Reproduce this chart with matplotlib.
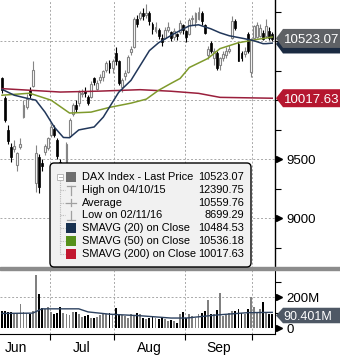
import matplotlib
matplotlib.use('Agg')
import matplotlib.pyplot as plt
import numpy as np
import pandas as pd
from matplotlib import font_manager
from matplotlib.patches import Rectangle, Polygon, FancyBboxPatch
from matplotlib.lines import Line2D
from matplotlib.transforms import blended_transform_factory, ScaledTranslation

avail = {f.name for f in font_manager.fontManager.ttflist}
FONT = 'Liberation Sans' if 'Liberation Sans' in avail else 'DejaVu Sans'
plt.rcParams['font.family'] = [FONT, 'DejaVu Sans']

# ---------------- data ----------------
dates = pd.bdate_range('2016-06-09', '2016-10-11')

opens = [10185, 10020, 9750, 9605, 9590, 9455, 9608, 9860, 9945, 10090, 10120, 9300, 9520, 9470, 9560, 9600,
         9710, 9760, 9665, 9480, 9390, 9400, 9700, 9880, 9960, 9980, 10050, 10080, 10030, 10030, 10190, 10100,
         10170, 10200, 10260, 10320, 10270,
         10400, 10330, 10110, 10210, 10240, 10410, 10450, 10690, 10700, 10740, 10725, 10740, 10650, 10590, 10600,
         10530, 10530, 10600, 10580, 10540, 10560, 10580, 10640,
         10590, 10560, 10690, 10660, 10690, 10740, 10640, 10380, 10488, 10362, 10404, 10300, 10355, 10380, 10421,
         10525, 10673, 10480, 10400, 10390, 10564, 10240,
         10530, 10540, 10547, 10572, 10545, 10589, 10560]
highs = [10200, 10040, 9790, 9640, 9665, 9560, 9680, 10000, 10050, 10110, 10335, 9620, 9545, 9500, 9630, 9690,
         9800, 9790, 9680, 9500, 9460, 9650, 9850, 9980, 10000, 10090, 10100, 10110, 10045, 10160, 10200, 10170,
         10220, 10260, 10330, 10340, 10350,
         10450, 10340, 10190, 10260, 10380, 10460, 10710, 10720, 10760, 10780, 10815, 10760, 10660, 10660, 10610,
         10560, 10620, 10660, 10590, 10610, 10570, 10680, 10650,
         10600, 10700, 10720, 10750, 10790, 10760, 10650, 10460, 10500, 10440, 10420, 10370, 10420, 10450, 10470,
         10715, 10690, 10490, 10420, 10450, 10580, 10530,
         10640, 10660, 10650, 10600, 10690, 10620, 10580]
lows = [10060, 9820, 9630, 9475, 9565, 9400, 9590, 9850, 9930, 10020, 10110, 9226, 9214, 9400, 9540, 9580,
        9690, 9690, 9500, 9330, 9340, 9390, 9690, 9870, 9900, 9950, 10030, 10030, 9960, 10020, 10130, 10090,
        10150, 10160, 10240, 10230, 10230,
        10300, 10130, 10070, 10170, 10230, 10380, 10440, 10620, 10680, 10680, 10700, 10640, 10560, 10570, 10520,
        10460, 10520, 10580, 10500, 10510, 10510, 10560, 10560,
        10490, 10550, 10640, 10620, 10680, 10640, 10560, 10350, 10400, 10300, 10260, 10260, 10330, 10360, 10400,
        10520, 10600, 10330, 10330, 10370, 10400, 10194,
        10520, 10530, 10540, 10510, 10530, 10510, 10500]
closes = [10088, 9834, 9657, 9519, 9615, 9550, 9631, 9962, 10015, 10045, 10257, 9557, 9268, 9440, 9612, 9680,
          9776, 9709, 9532, 9373, 9418, 9629, 9833, 9964, 9930, 10068, 10066, 10063, 9981, 10142, 10156, 10147,
          10198, 10247, 10319, 10275, 10337,
          10330, 10144, 10170, 10228, 10367, 10432, 10693, 10650, 10742, 10713, 10740, 10676, 10603, 10620, 10544,
          10495, 10593, 10623, 10529, 10588, 10544, 10657, 10592,
          10534, 10684, 10700, 10740, 10752, 10675, 10573, 10435, 10421, 10420, 10278, 10355, 10396, 10421, 10436,
          10673, 10614, 10337, 10360, 10420, 10421, 10522,
          10630, 10640, 10614, 10522, 10630, 10530, 10523]
volumes_m = [111, 111, 107, 104, 89, 98, 156, 104, 96, 89, 111, 344, 222, 129, 122, 138,
             104, 89, 100, 138, 100, 93, 84, 104, 107, 93, 73, 76, 82, 67, 67, 71, 82, 89, 93, 100, 82,
             133, 89, 82, 78, 67, 89, 78, 98, 89, 67, 56, 67, 78, 67, 60, 67, 56, 44, 49, 44, 33, 89, 107,
             67, 89, 78, 67, 89, 100, 111, 182, 89, 93, 116, 227, 78, 82, 100, 111, 111, 122, 100, 89, 122, 204,
             140, 100, 122, 167, 100, 89, 90.401]

# moving averages (bar index, value)
sma20_idx = [0, 4, 8, 11, 14, 17, 20, 22, 25, 30, 33, 35, 38, 42, 45, 48, 51, 56, 61, 64, 68, 71, 74, 79, 82, 85, 86, 88]
sma20_val = [10093, 10043, 10018, 10001, 9900, 9774, 9685, 9683, 9749, 9774, 9858, 9942, 10068, 10169, 10295,
             10421, 10488, 10564, 10631, 10640, 10606, 10572, 10547, 10522, 10505, 10480, 10480, 10484.53]
sma50_idx = [0, 9, 16, 22, 29, 35, 42, 47, 51, 55, 58, 61, 67, 71, 77, 84, 88]
sma50_val = [10043, 10060, 10001, 9892, 9900, 9940, 9976, 10010, 10085, 10143, 10185, 10278, 10354, 10438,
             10488, 10520, 10536.18]
sma200_idx = [0, 19, 32, 45, 55, 64, 71, 88]
sma200_val = [10099, 10070, 10078, 10090, 10077, 10059, 10025, 10017.63]
vma_idx = [0, 10, 13, 25, 28, 35, 45, 55, 60, 70, 80, 88]
vma_val = [95, 97, 125, 125, 105, 90, 80, 65, 65, 85, 100, 102]

last_price = 10523.07
legend_labels = ['DAX Index - Last Price', 'High on 04/10/15', 'Average', 'Low on 02/11/16',
                 'SMAVG (20) on Close', 'SMAVG (50) on Close', 'SMAVG (200) on Close']
legend_values = ['10523.07', '12390.75', '10559.76', '8699.29', '10484.53', '10536.18', '10017.63']
month_names = ['Jun', 'Jul', 'Aug', 'Sep']

# ---------------- figure ----------------
W, H = 340, 363
fig = plt.figure(figsize=(W / 100, H / 100), dpi=100)
fx = lambda x: x / W
fy = lambda y: 1 - y / H

ax = fig.add_axes([0, fy(268), fx(275), 268 / H])
axv = fig.add_axes([0, fy(334), fx(275), (334 - 270) / H])

opens = np.array(opens, float); highs = np.array(highs, float)
lows = np.array(lows, float); closes = np.array(closes, float)
vol = np.array(volumes_m, float)
n = len(closes)
x = np.arange(n)
up = closes >= opens
XL = (-0.65, 88.9)

GRAY = '#858585'
grid_kw = dict(color='#a8a8a8', lw=0.7, ls=(0, (2, 2)), zorder=1)

# month boundaries
mon = dates.month
starts = [i for i in range(1, n) if mon[i] != mon[i - 1]]
bounds = [s - 0.5 for s in starts]
centers = []
for k, name in enumerate(month_names):
    m = 6 + k
    full = len(pd.bdate_range(pd.Timestamp(2016, m, 1), pd.Timestamp(2016, m, 1) + pd.offsets.MonthEnd(0)))
    end = bounds[k]
    centers.append(end - full / 2)

# ---- main price panel ----
for b in bounds:
    ax.axvline(b, **grid_kw)
for g in [9000, 9500, 10000, 10500]:
    ax.axhline(g, **grid_kw)

ax.vlines(x[up], lows[up], highs[up], color=GRAY, lw=0.8, zorder=3)
ax.vlines(x[~up], lows[~up], highs[~up], color='black', lw=0.8, zorder=3)
bot = np.minimum(opens, closes)
hgt = np.maximum(np.abs(closes - opens), 5)
ax.bar(x[up], hgt[up], bottom=bot[up], width=0.62, facecolor='white', edgecolor=GRAY, lw=0.8, zorder=4)
ax.bar(x[~up], hgt[~up], bottom=bot[~up], width=0.62, facecolor='black', edgecolor='black', lw=0.5, zorder=4)

ax.plot(sma200_idx, sma200_val, color='#9a1f3c', lw=1.1, zorder=5)
ax.plot(sma50_idx, sma50_val, color='#7f9a2c', lw=1.1, zorder=5)
ax.plot(sma20_idx, sma20_val, color='#21375a', lw=1.1, zorder=6)

ax.set_xlim(*XL)
ax.set_ylim(8579, 10850)
for s in ['left', 'top', 'bottom']:
    ax.spines[s].set_visible(False)
ax.spines['right'].set_color('black')
ax.spines['right'].set_linewidth(1.0)
ax.set_xticks([])
ax.yaxis.tick_right()
yt = np.arange(8750, 10850, 250)
ax.set_yticks(yt)
ax.set_yticklabels([str(int(v)) if v in (9000, 9500) else '' for v in yt])
ax.tick_params(axis='y', direction='out', length=4, width=0.8, pad=4, labelsize=9.5)

tr = blended_transform_factory(ax.transAxes, ax.transData) + ScaledTranslation(4 / 100, 0, fig.dpi_scale_trans)
for v in [9000, 9500]:
    ax.plot([1.0], [v], marker='>', ms=4.5, color='black', transform=tr, clip_on=False, zorder=7)

# ---- volume panel ----
for b in bounds:
    axv.axvline(b, **grid_kw)
axv.axhline(200, **grid_kw)
axv.bar(x[up], vol[up], width=0.6, color='#808080', zorder=3)
axv.bar(x[~up], vol[~up], width=0.6, color='black', zorder=3)
axv.plot(vma_idx, vma_val, color='#2d4260', lw=1.0, zorder=4)
axv.set_xlim(*XL)
axv.set_ylim(-39, 378)
for s in ['left', 'top']:
    axv.spines[s].set_visible(False)
axv.yaxis.tick_right()
axv.set_yticks([0, 100, 200, 300])
axv.set_yticklabels(['0', '', '200M', ''])
axv.tick_params(axis='y', direction='out', length=4, width=0.8, pad=4, labelsize=9.5)
trv = blended_transform_factory(axv.transAxes, axv.transData) + ScaledTranslation(4 / 100, 0, fig.dpi_scale_trans)
for v in [0, 200]:
    axv.plot([1.0], [v], marker='>', ms=4.5, color='black', transform=trv, clip_on=False, zorder=7)
axv.set_xticks(bounds)
axv.set_xticklabels([])
axv.set_xticks(centers, minor=True)
axv.set_xticklabels(month_names, minor=True)
axv.tick_params(axis='x', which='major', direction='out', length=4, width=0.8)
axv.tick_params(axis='x', which='minor', length=0, pad=5, labelsize=10)

# separator band
fig.add_artist(Rectangle((0, fy(270)), 1, 3 / H, transform=fig.transFigure, color='#8c8c8c', zorder=8))


# ---- value boxes on right ----
def value_box(yc, h, color, text, fs=9.5):
    pts = [(276, yc), (283, yc - h / 2), (345, yc - h / 2), (345, yc + h / 2), (283, yc + h / 2)]
    fig.add_artist(Polygon([(fx(a), fy(b)) for a, b in pts], closed=True, transform=fig.transFigure,
                           facecolor=color, edgecolor='none', zorder=9))
    if text:
        fig.text(fx(283.5), fy(yc), text, color='white', fontsize=fs, ha='left', va='center_baseline', zorder=10)


def py(v):
    return 100.3 - (v - 10000) * 0.1183


value_box(py(10484.53) + 1, 19, '#1b2b42', '')
value_box(py(last_price), 19, '#5e6165', legend_values[0])
value_box(py(10017.63), 18, '#b5162f', legend_values[6])
value_box(315.5, 15.5, '#4e5865', '90.401M', fs=9)

# ---- legend ----
L, T, R, B = 50, 163, 251, 267
fig.add_artist(FancyBboxPatch((fx(L), fy(B)), fx(R - L), (B - T) / H,
                              boxstyle='round,pad=0,rounding_size=0.012', transform=fig.transFigure,
                              facecolor='#f1f1f1', edgecolor='black', lw=1.0, zorder=11))
rows = [176.7, 189.6, 202.5, 215.4, 228.3, 241.2, 254.1]
sq_colors = ['#6e6e6e', None, None, None, '#17304f', '#56901a', '#c2172f']
tree_c = '#b8b8b8'
fig.add_artist(Line2D([fx(60), fx(60)], [fy(180), fy(254)], transform=fig.transFigure, color=tree_c,
                      lw=0.8, ls=(0, (1, 1)), zorder=12))
fig.add_artist(Rectangle((fx(57), fy(180)), fx(6), 6 / H, transform=fig.transFigure, facecolor='white',
                         edgecolor=tree_c, lw=0.7, zorder=12))
fig.add_artist(Line2D([fx(58.5), fx(61.5)], [fy(177), fy(177)], transform=fig.transFigure, color=tree_c,
                      lw=0.7, zorder=13))
for i, (yr, lab, val) in enumerate(zip(rows, legend_labels, legend_values)):
    if i > 0:
        fig.add_artist(Line2D([fx(60), fx(65)], [fy(yr), fy(yr)], transform=fig.transFigure, color=tree_c,
                              lw=0.8, ls=(0, (1, 1)), zorder=12))
    c = sq_colors[i]
    if c is not None:
        fig.add_artist(Rectangle((fx(66), fy(yr + 5)), fx(10), 10 / H, transform=fig.transFigure,
                                 facecolor=c, edgecolor='none', zorder=12))
    else:
        lc = '#a0a0a0'
        if i == 1:   # high marker
            segs = [((67, yr - 4), (75, yr - 4)), ((71, yr - 4), (71, yr + 5))]
        elif i == 2:  # average marker
            segs = [((66, yr), (76, yr)), ((71, yr - 3), (71, yr + 3))]
        else:         # low marker
            segs = [((67, yr + 5), (75, yr + 5)), ((71, yr - 4), (71, yr + 5))]
        for (a, b), (c2, d) in segs:
            fig.add_artist(Line2D([fx(a), fx(c2)], [fy(b), fy(d)], transform=fig.transFigure, color=lc,
                                  lw=0.9, zorder=12))
    fig.text(fx(81.5), fy(yr), lab, fontsize=7.9, ha='left', va='center', color='black', zorder=13)
    fig.text(fx(244), fy(yr), val, fontsize=7.9, ha='right', va='center', color='black', zorder=13)

fig.savefig('out.png', dpi=100, facecolor='white')
